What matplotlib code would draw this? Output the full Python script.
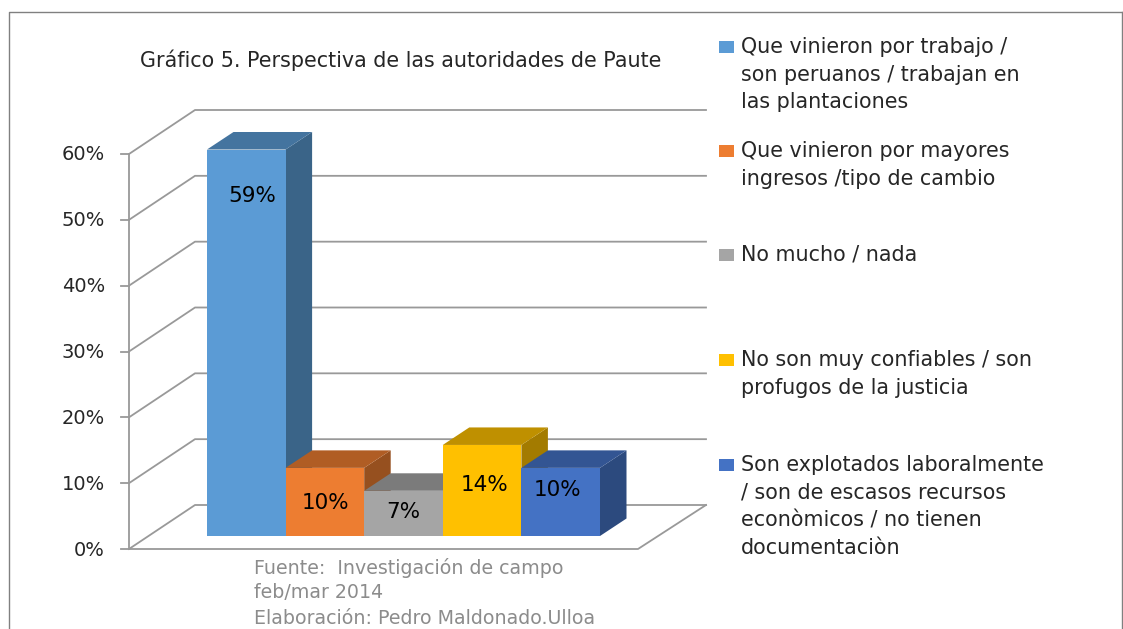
import matplotlib
matplotlib.use("Agg")
import matplotlib.pyplot as plt
from matplotlib.patches import Polygon, Rectangle

W, H = 1123, 629

categories = ["Que vinieron por trabajo /\nson peruanos / trabajan en\nlas plantaciones",
              "Que vinieron por mayores\ningresos /tipo de cambio",
              "No mucho / nada",
              "No son muy confiables / son\nprofugos de la justicia",
              "Son explotados laboralmente\n/ son de escasos recursos\neconòmicos / no tienen\ndocumentaciòn"]
values = [59, 10.4, 6.9, 13.9, 10.4]
value_labels = ["59%", "10%", "7%", "14%", "10%"]
front_colors = ["#5B9BD5", "#ED7D31", "#A5A5A5", "#FFC000", "#4472C4"]
top_colors = ["#44749F", "#B05D24", "#7B7B7B", "#BF9000", "#335593"]
side_colors = ["#3A6488", "#96501F", "#6A6A6A", "#A37B00", "#2C4A7E"]
y_ticks = [0, 10, 20, 30, 40, 50, 60]
legend_y = [47, 151, 255, 360, 465]
title = "Gráfico 5. Perspectiva de las autoridades de Paute"
source = ["Fuente:  Investigación de campo", "feb/mar 2014", "Elaboración: Pedro Maldonado.Ulloa"]

plt.rcParams["font.family"] = ["DejaVu Sans"]
fig = plt.figure(figsize=(W / 100, H / 100), dpi=100)
ax = fig.add_axes([0, 0, 1, 1])
ax.set_xlim(0, W)
ax.set_ylim(H, 0)
ax.axis("off")

# frame of the slide
ax.plot([8.5, 8.5, 1122], [629, 12, 12], color="#808080", lw=1)
ax.plot([1122, 1122], [12, 629], color="#808080", lw=1)

# 3d box geometry in pixels
x0, y0 = 129, 549      # front left at 0%
dx, dy = 66, 44        # depth of the floor
px_per_pct = (549 - 154) / 60
floor_w = 509

grid = "#999999"
lw = 1.3
for t in y_ticks:
    y = y0 - t * px_per_pct
    ax.plot([x0, x0 + dx, x0 + dx + floor_w + 2], [y, y - dy, y - dy], color=grid, lw=lw)
    ax.plot([x0 - 8, x0], [y, y], color=grid, lw=lw)
    ax.text(105, y + 1, f"{t}%", ha="right", va="center", fontsize=14, color="#262626")
ax.plot([x0, x0], [y0, y0 - 60 * px_per_pct], color=grid, lw=lw)
ax.plot([x0, x0 + floor_w, x0 + dx + floor_w + 2], [y0, y0, y0 - dy], color=grid, lw=lw)

# bars
bx, bw = 207, 78.6
by = 536
ddx, ddy = 26.5, 17.5
for i, v in enumerate(values):
    l = bx + i * bw
    r = l + bw
    top = by - v * (536 - 149.5) / 59
    ax.add_patch(Polygon([(r, by), (r + ddx, by - ddy), (r + ddx, top - ddy), (r, top)],
                         fc=side_colors[i], ec="none", zorder=3 + i))
    ax.add_patch(Polygon([(l, top), (l + ddx, top - ddy), (r + ddx, top - ddy), (r, top)],
                         fc=top_colors[i], ec="none", zorder=3 + i))
    ax.add_patch(Rectangle((l, top), bw, by - top, fc=front_colors[i], ec="none", zorder=3 + i))

label_x = [252, 326, 403, 485, 557]
label_y = [196, 503, 512, 485, 490]
for i, s in enumerate(value_labels):
    ax.text(label_x[i], label_y[i], s, ha="center", va="center",
            fontsize=15.5, color="black", zorder=20)

ax.text(401, 60, title, ha="center", va="center", fontsize=14.9, color="#262626")

# legend
for i, s in enumerate(categories):
    ax.add_patch(Rectangle((719, legend_y[i] - 6), 15, 12, fc=front_colors[i], ec="none"))
    ax.text(741, legend_y[i] - 10, s, ha="left", va="top", fontsize=14.9,
            color="#262626", linespacing=1.47)

for i, s in enumerate(source):
    ax.text(254, 568 + i * 25, s, ha="left", va="center", fontsize=13.7, color="#8C8C8C")

fig.savefig("out.png", dpi=100)
plt.close()
